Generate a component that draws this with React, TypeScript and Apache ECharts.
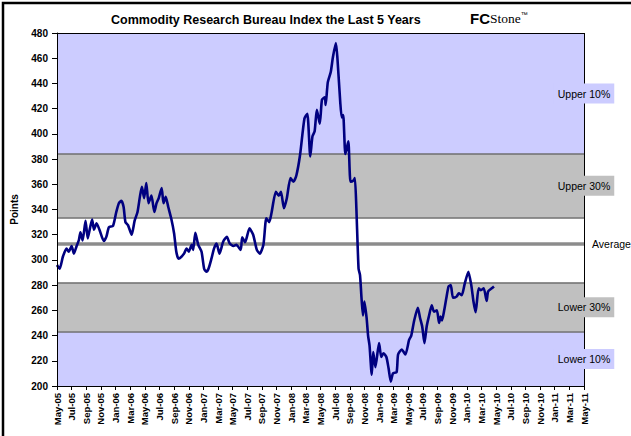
import React, { useEffect, useRef } from "react";
import * as echarts from "echarts";

// months since May 2005 (fractional) and index values
const monthIndex = [
  0, 0.37, 0.8, 1.3, 1.6, 2.0, 2.3, 2.65, 3.0, 3.2, 3.5, 3.9, 4.2, 4.5, 4.8, 5.05, 5.4, 5.8, 6.4, 6.75,
  7.1, 7.65, 8.1, 8.45, 8.8, 9.1, 9.35, 9.7, 10.2, 10.6, 11.0, 11.35, 11.6, 11.9, 12.2, 12.5, 12.9, 13.3,
  13.6, 13.9, 14.3, 14.55, 14.85, 15.2, 15.6, 16.0, 16.3, 16.6, 17.0, 17.35, 17.7, 18.0, 18.4, 18.6, 18.9,
  19.3, 19.75, 20.1, 20.4, 20.7, 21.1, 21.45, 21.8, 22.2, 22.7, 23.2, 23.6, 24.1, 24.5, 25.1, 25.3, 25.7,
  26.3, 26.8, 27.3, 27.7, 28.2, 28.6, 29.0, 29.3, 29.9, 30.3, 30.6, 31.0, 31.4, 31.9, 32.3, 32.7, 33.2,
  33.8, 34.2, 34.6, 34.9, 35.2, 35.5, 35.9, 36.2, 36.6, 36.7, 37.0, 37.4, 37.7, 38.1, 38.3, 38.7, 38.9,
  39.1, 39.4, 39.8, 40.1, 40.5, 40.7, 40.9, 41.2, 41.4, 41.6, 41.8, 42.0, 42.3, 42.5, 42.7, 43.0, 43.2,
  43.5, 44.0, 44.3, 44.6, 45.0, 45.3, 45.6, 45.9, 46.4, 46.6, 47.1, 47.6, 48.1, 48.4, 48.8, 49.3, 49.6,
  49.9, 50.2, 50.5, 50.8, 51.2, 51.5, 51.9, 52.2, 52.4, 52.6, 52.9, 53.2, 53.5, 53.8, 54.1, 54.6, 54.9,
  55.3, 55.7, 56.2, 56.6, 56.9, 57.2, 57.6, 57.9, 58.3, 58.7, 58.9, 59.4, 59.7,
];
const crbValues = [
  296, 293, 302.5, 309, 306.5, 311, 305, 310.5, 316, 322, 315.5, 331, 317, 325, 332, 324, 329, 324, 315, 318.5,
  326, 327, 338, 345, 347, 342, 330, 327.6, 320, 331, 338, 351, 358, 349, 361, 345, 351, 338,
  345, 349, 357, 345, 350, 342, 333, 321, 306.5, 301, 302.5, 305, 309, 306.5, 312, 308, 321.5,
  312, 306.5, 293, 290.6, 293, 301, 309, 313, 305, 314.4, 318.4, 313, 311, 312, 308, 318, 314,
  325, 320, 308, 305, 312, 333, 330, 337, 354, 351, 354, 341, 349, 365, 362, 367, 383,
  412, 416, 382, 398, 402, 419, 408, 427, 429, 423, 441, 449, 461, 472, 461, 425, 413,
  415, 384, 394, 362, 363, 365, 341, 293, 288, 270, 256, 267, 254, 240, 232, 209, 227,
  215, 234, 223, 226, 223, 214, 203.5, 210, 211, 225, 229, 225, 236.5, 240, 252, 262, 254,
  247, 234, 247, 255, 264, 259, 260, 250, 255, 252, 260, 270, 279, 280, 270, 271, 273.5,
  272, 281, 290.6, 280, 267, 258.5, 277.5, 276, 277.5, 267.5, 275, 277.5, 279,
];

const xTickLabels = [
  "May-05", "Jul-05", "Sep-05", "Nov-05", "Jan-06", "Mar-06", "May-06", "Jul-06", "Sep-06", "Nov-06",
  "Jan-07", "Mar-07", "May-07", "Jul-07", "Sep-07", "Nov-07", "Jan-08", "Mar-08", "May-08", "Jul-08",
  "Sep-08", "Nov-08", "Jan-09", "Mar-09", "May-09", "Jul-09", "Sep-09", "Nov-09", "Jan-10", "Mar-10",
  "May-10", "Jul-10", "Sep-10", "Nov-10", "Jan-11", "Mar-11", "May-11",
];

const bandEdges = [200, 243, 282, 333.5, 384, 480];
const bandNames = ["Lower 10%", "Lower 30%", "", "Upper 30%", "Upper 10%"];
const bandColors = ["#CCCCFF", "#C0C0C0", "#FFFFFF", "#C0C0C0", "#CCCCFF"];
const averageValue = 313;
const xMax = 72;

const FONT = "'Liberation Sans', Arial, sans-serif";

export default function App() {
  const ref = useRef<HTMLDivElement>(null);
  useEffect(() => {
    if (!ref.current) return;
    const chart = echarts.init(ref.current, null, { renderer: "svg" });
    const bands = bandNames.map((name, i) => ({
      from: bandEdges[i],
      to: bandEdges[i + 1],
      name,
      color: bandColors[i],
    }));
    const option: any = {
      animation: false,
      backgroundColor: "#FFFFFF",
      textStyle: { fontFamily: FONT },
      title: {
        text: "Commodity Research Bureau Index the Last 5 Years",
        left: 111,
        top: 13,
        padding: 0,
        textStyle: { fontFamily: FONT, fontSize: 12.5, fontWeight: "bold", color: "#000" },
      },
      graphic: [
        {
          type: "rect",
          shape: { x: 3, y: 3, width: 800, height: 800 },
          style: { fill: "none", stroke: "#000", lineWidth: 2.5 },
          silent: true,
          z: 100,
        },
        {
          type: "text",
          x: 470,
          y: 11,
          style: {
            text: "{a|FC}{b|Stone}{c|™}",
            rich: {
              a: { fontFamily: FONT, fontWeight: "bold", fontSize: 15, fill: "#000" },
              b: { fontFamily: "'Liberation Serif', 'DejaVu Serif', serif", fontSize: 13.5, fill: "#000" },
              c: { fontFamily: FONT, fontSize: 7, fill: "#000", verticalAlign: "top" },
            },
          },
          silent: true,
        },
      ],
      grid: { left: 57, right: 47, top: 33, bottom: 50, containLabel: false },
      xAxis: [
        {
          type: "value",
          min: 0,
          max: xMax,
          interval: 2,
          z: 10,
          axisLine: { show: true, lineStyle: { color: "#000", width: 1 } },
          axisTick: { show: true, length: 4, lineStyle: { color: "#000" } },
          splitLine: { show: false },
          axisLabel: {
            rotate: 90,
            margin: 7,
            fontFamily: FONT,
            fontSize: 9.5,
            fontWeight: "bold",
            color: "#000",
            formatter: (v: number) => xTickLabels[Math.round(v / 2)] ?? "",
          },
        },
        {
          type: "value",
          position: "top",
          min: 0,
          max: xMax,
          z: 10,
          axisLine: { show: true, onZero: false, lineStyle: { color: "#000", width: 1 } },
          axisTick: { show: false },
          axisLabel: { show: false },
          splitLine: { show: false },
        },
      ],
      yAxis: [
        {
          type: "value",
          min: 200,
          max: 480,
          interval: 20,
          z: 10,
          name: "Points",
          nameLocation: "middle",
          nameRotate: 90,
          nameGap: 38,
          nameTextStyle: { fontFamily: FONT, fontSize: 10, fontWeight: "bold", color: "#000" },
          axisLine: { show: true, onZero: false, lineStyle: { color: "#000", width: 1 } },
          axisTick: { show: true, length: 5, lineStyle: { color: "#000" } },
          splitLine: { show: false },
          axisLabel: { margin: 9, fontFamily: FONT, fontSize: 10, fontWeight: "bold", color: "#000" },
        },
      ],
      series: [
        {
          name: "bands",
          type: "line",
          data: [],
          z: 1,
          silent: true,
          markArea: {
            silent: true,
            z: 1,
            data: bands.map((b) => [
              { yAxis: b.from, itemStyle: { color: b.color, opacity: 1 } },
              { yAxis: b.to },
            ]),
            label: { show: false },
          },
          markLine: {
            silent: true,
            z: 2,
            symbol: "none",
            data: [
              ...bandEdges.slice(1, -1).map((v) => ({
                yAxis: v,
                lineStyle: { color: "#6f6f6f", width: 1.5, type: "solid" },
                label: { show: false },
              })),
              {
                xAxis: xMax,
                lineStyle: { color: "#000", width: 1, type: "solid" },
                label: { show: false },
              },
              {
                yAxis: averageValue,
                lineStyle: { color: "#8c8c8c", width: 3.5, type: "solid" },
                label: {
                  show: true,
                  position: "end",
                  distance: 8,
                  formatter: "Average",
                  fontFamily: FONT,
                  fontSize: 10.5,
                  color: "#000",
                },
              },
            ],
          },
        },
        {
          name: "CRB Index",
          type: "line",
          data: monthIndex.map((m, i) => [m, crbValues[i]]),
          showSymbol: false,
          smooth: 0.2,
          z: 5,
          lineStyle: { color: "#000080", width: 2.6 },
        },
        {
          name: "bandLabels",
          type: "line",
          data: [],
          z: 12,
          zlevel: 1,
          silent: true,
          markArea: {
            silent: true,
            z: 12,
            zlevel: 1,
            data: bands
              .filter((b) => b.name !== "")
              .map((b) => [
                {
                  yAxis: b.from,
                  itemStyle: { color: "rgba(0,0,0,0)" },
                  label: {
                    show: true,
                    formatter: b.name,
                    position: ["100%", "50%"],
                    align: "center",
                    verticalAlign: "middle",
                    backgroundColor: b.color,
                    padding: [5, 4, 4, 4],
                    fontFamily: FONT,
                    fontSize: 10.5,
                    color: "#000",
                  },
                },
                { yAxis: b.to },
              ]),
          },
        },
      ],
    };
    chart.setOption(option);
    return () => chart.dispose();
  }, []);
  return (
    <div
      ref={ref}
      style={{ position: "fixed", left: 0, top: 0, width: 631, height: 436 }}
    />
  );
}
